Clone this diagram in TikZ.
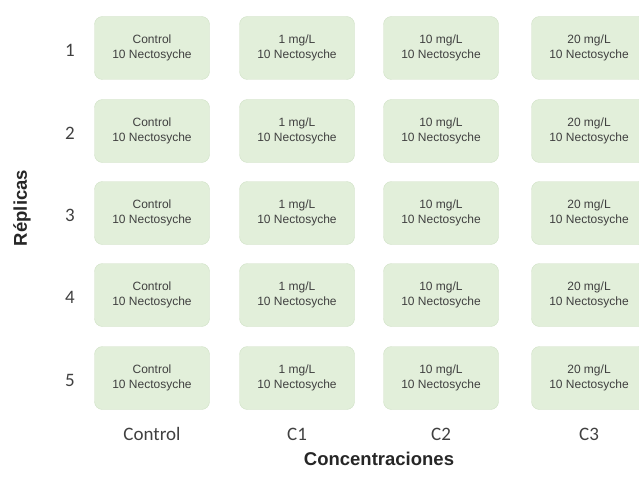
\documentclass[tikz,border=0pt]{standalone}
\usepackage{fontspec}
\setmainfont{Liberation Sans}
\newfontfamily\calibrifont{Carlito}
\usepackage{xcolor}
\usepackage{tikz}
\definecolor{boxgreen}{RGB}{226,239,218}
\definecolor{edgegreen}{RGB}{208,225,198}
\definecolor{inkgray}{RGB}{64,64,64}

\begin{document}
\begin{tikzpicture}[x=1pt,y=-1pt,
    cell/.style={draw=edgegreen,fill=boxgreen,rounded corners=8pt,
        minimum width=115pt,minimum height=63pt,align=center,
        text=inkgray,font=\fontsize{12}{15.5}\selectfont},
    tag/.style={text=inkgray,font=\calibrifont\fontsize{19}{22}\selectfont},
    axis/.style={text=black!85,font=\bfseries\fontsize{18.5}{22}\selectfont}]
    \clip (0,0) rectangle (639,476);

    % Grid of replicas x concentrations
    \foreach \c/\x/\conc/\name in {1/152/Control/Control,2/297/{1 mg/L}/C1,
            3/441/{10 mg/L}/C2,4/589/{20 mg/L}/C3}{
        \foreach \r/\y in {1/48,2/131,3/213,4/295,5/378}{
            \node[cell] (box-\r-\c) at (\x,\y) {\conc\\10 Nectosyche};
        }
        \node[tag] (col-\c) at (\x,434) {\name};
    }

    % Replica numbers
    \foreach \r/\y in {1/48,2/131,3/213,4/295,5/378}{
        \node[tag] (row-\r) at (70,\y+2) {\r};
    }

    % Axis titles
    \node[axis,rotate=90] (replicas) at (22,208) {Réplicas};
    \node[axis] (conc) at (379,459) {Concentraciones};
\end{tikzpicture}
\end{document}
